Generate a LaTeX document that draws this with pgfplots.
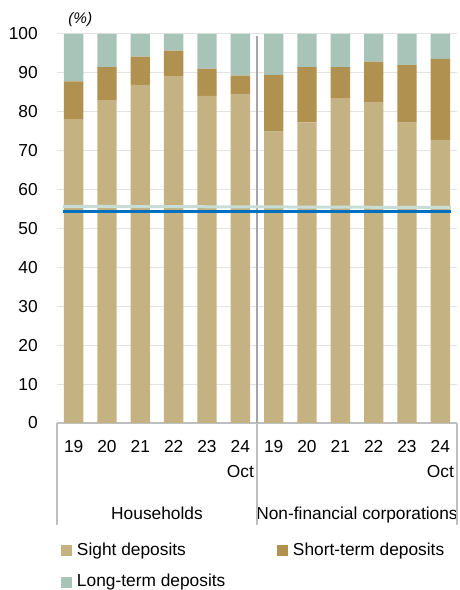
\documentclass[border=0pt]{standalone}
\usepackage{pgfplots}
\pgfplotsset{compat=1.18}
\usepackage{fontspec}
\setmainfont{Liberation Sans}
\definecolor{sight}{HTML}{C5B282}
\definecolor{short}{HTML}{B09150}
\definecolor{long}{HTML}{A8C4B9}
\definecolor{blueline}{HTML}{0070C0}
\definecolor{greenline}{HTML}{C8DDD5}
\definecolor{gridc}{HTML}{E3E3E3}
\definecolor{axc}{HTML}{BFBFBF}
\definecolor{sepc}{HTML}{A6A6A6}

\pgfplotstableread{
x sight short long
0 78.1 9.7 12.2
1 83.0 8.5 8.5
2 86.9 7.3 5.8
3 89.2 6.5 4.3
4 84.1 7.0 8.9
5 84.6 4.7 10.7
6 74.9 14.6 10.5
7 77.3 14.2 8.5
8 83.5 8.0 8.5
9 82.5 10.4 7.1
10 77.2 14.8 8.0
11 72.8 20.8 6.4
}\deposits

\begin{document}
\begin{tikzpicture}
\useasboundingbox (0,0) rectangle (345pt,442.5pt);
\begin{axis}[
  at={(42.75pt,125.25pt)}, anchor=south west,
  scale only axis, width=300pt, height=291.75pt,
  ybar stacked, bar width=14.5pt,
  xmin=-0.5, xmax=11.5, ymin=0, ymax=100,
  ytick={0,10,...,100},
  xtick={0,...,11},
  xticklabels={19,20,21,22,23,{24\\Oct},19,20,21,22,23,{24\\Oct}},
  ymajorgrids, grid style={gridc, line width=0.75pt},
  axis line style={draw=none},
  tick style={draw=none},
  major tick length=0pt,
  tick label style={font=\fontsize{13}{18.75}\selectfont},
  yticklabel style={anchor=east, inner sep=0pt, xshift=-14.25pt},
  xticklabel style={anchor=north, inner sep=0pt, yshift=-12.75pt, align=center},
  /pgf/number format/assume math mode=true,
  clip=false,
  legend style={at={(0.01,-0.3057)}, anchor=north west, draw=none, fill=none,
    inner sep=0pt, outer sep=0pt, legend columns=2,
    font=\fontsize{13}{15}\selectfont,
    nodes={inner sep=0pt, text depth=},
    /tikz/every odd column/.style={column sep=3.75pt},
    row sep=11.05pt},
  legend cell align=left,
  legend image code/.code={\fill[#1] (0pt,-4.125pt) rectangle (8.25pt,4.125pt);},
]
\addplot[fill=sight, draw=none] table[x=x, y=sight] {\deposits};
\addlegendentry{\makebox[150pt][l]{\rule[-0.7pt]{0pt}{10.7pt}Sight deposits}}
\addplot[fill=short, draw=none] table[x=x, y=short] {\deposits};
\addlegendentry{\rule[-0.7pt]{0pt}{10.7pt}Short-term deposits}
\addplot[fill=long, draw=none] table[x=x, y=long] {\deposits};
\addlegendentry{\makebox[150pt][l]{\rule[-0.7pt]{0pt}{10.7pt}Long-term deposits}}
\draw[axc, line width=1.5pt] (rel axis cs:0,0) -- (rel axis cs:1,0);
\draw[axc, line width=1.5pt] (rel axis cs:0,0) -- ([yshift=-76.5pt]rel axis cs:0,0);
\draw[axc, line width=1.5pt] (rel axis cs:0.5,0) -- ([yshift=-76.5pt]rel axis cs:0.5,0);
\draw[axc, line width=1.5pt] (rel axis cs:1,0) -- ([yshift=-76.5pt]rel axis cs:1,0);
\node[anchor=base, font=\fontsize{13}{15}\selectfont, yshift=-72.2pt] at (rel axis cs:0.25,0) {Households};
\node[anchor=base, font=\fontsize{13}{15}\selectfont, yshift=-72.2pt] at (rel axis cs:0.75,0) {Non-financial corporations};
\node[anchor=west, inner sep=0pt, font=\fontsize{11.5}{13}\selectfont\itshape, yshift=10.9pt] at (rel axis cs:0.0275,1) {(\%)};
\end{axis}
\begin{axis}[
  at={(42.75pt,125.25pt)}, anchor=south west,
  scale only axis, width=300pt, height=291.75pt,
  xmin=-0.5, xmax=11.5, ymin=0, ymax=100,
  hide axis, clip=false,
]
\draw[sepc, line width=1pt] (axis cs:5.5,0) -- (axis cs:5.5,99.5);
\addplot[greenline, line width=2.25pt] coordinates {(-0.32,55.7) (11.32,55.4)};
\addplot[blueline, line width=2.25pt] coordinates {(-0.32,54.3) (11.32,54.3)};
\end{axis}
\end{tikzpicture}
\end{document}
